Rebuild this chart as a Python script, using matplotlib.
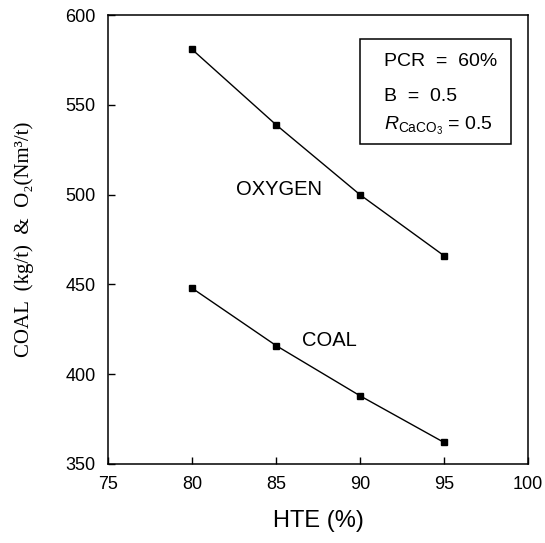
import matplotlib
matplotlib.use("Agg")
import matplotlib.pyplot as plt
from matplotlib.patches import Rectangle

# HTE (%) and the two consumption curves
hte = [80, 85, 90, 95]
oxygen = [581, 539, 500, 466]
coal = [448, 416, 388, 362]

x_ticks = [75, 80, 85, 90, 95, 100]
y_ticks = [350, 400, 450, 500, 550, 600]

plt.rcParams['font.family'] = ['Liberation Sans', 'DejaVu Sans']
plt.rcParams['mathtext.fontset'] = 'custom'
plt.rcParams['mathtext.rm'] = 'Liberation Sans'
plt.rcParams['mathtext.it'] = 'Liberation Sans:italic'

fig = plt.figure(figsize=(5.45, 5.43), dpi=100)
ax = fig.add_axes([0.198, 0.1455, 0.771, 0.8265])

ax.plot(hte, oxygen, color='black', lw=1.0, marker='s', ms=4.5)
ax.plot(hte, coal, color='black', lw=1.0, marker='s', ms=4.5)

ax.set_xlim(75, 100)
ax.set_ylim(350, 600)
ax.set_xticks(x_ticks)
ax.set_yticks(y_ticks)
ax.tick_params(direction='in', length=5, width=1, labelsize=13, pad=9,
               colors='black')
for s in ax.spines.values():
    s.set_linewidth(1.1)

ax.text(85.2, 503, 'OXYGEN', fontsize=14.5, ha='center', va='center')
ax.text(88.2, 419, 'COAL', fontsize=14.5, ha='center', va='center')

# parameter box
ax.add_patch(Rectangle((90.0, 528), 9.0, 59, fill=False, lw=1.1,
                       edgecolor='black'))
ax.text(91.4, 574, 'PCR  =  60%', fontsize=14, va='center')
ax.text(91.4, 554.5, 'B  =  0.5', fontsize=14, va='center')
ax.text(91.4, 538.5, r'$R_{\mathrm{CaCO_3}}$ = 0.5', fontsize=14,
        va='center')

ax.set_xlabel('HTE (%)', fontsize=17, labelpad=12)
ax.set_ylabel('COAL  (kg/t)  &  O₂(Nm³/t)', fontsize=15, labelpad=22,
              family=['Liberation Serif', 'DejaVu Serif'])

fig.savefig('out.png', dpi=100)
